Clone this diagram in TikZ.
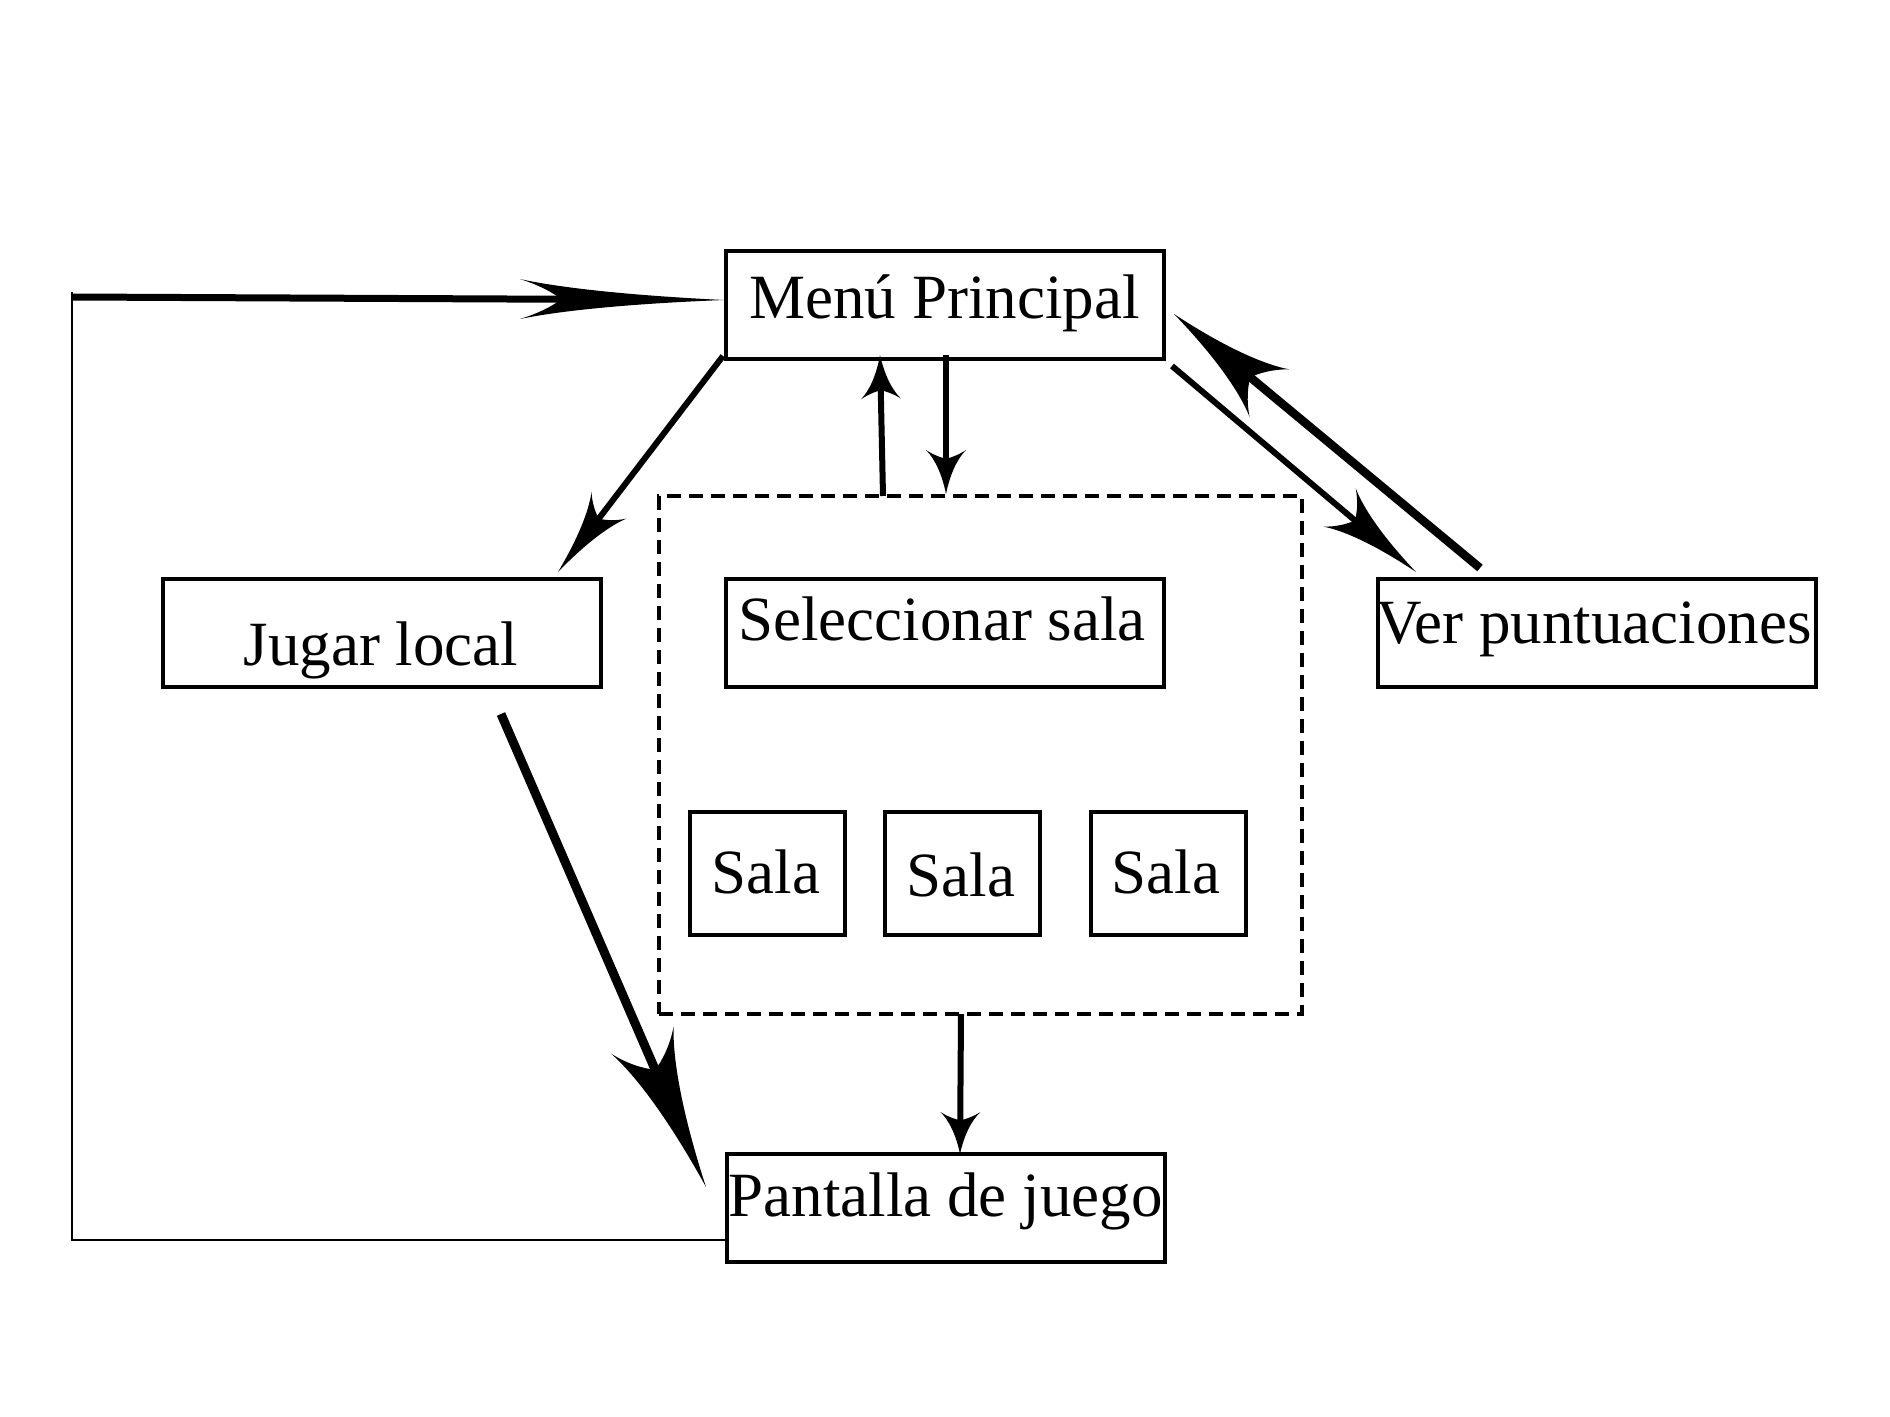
\documentclass[tikz,border=0pt]{standalone}
\usepackage{fontspec}
\setmainfont{Liberation Serif}
\usetikzlibrary{arrows.meta}
\pgfdeclarearrow{
  name = Barb,
  defaults = {length = 20pt, width = 20pt},
  parameters = {\the\pgfarrowlength,\the\pgfarrowwidth},
  setup code = {
    \pgfarrowssettipend{\pgfarrowlength}
    \pgfarrowssetbackend{0pt}
    \pgfarrowssetlineend{.3\pgfarrowlength}
    \pgfarrowshullpoint{\pgfarrowlength}{0pt}
    \pgfarrowsupperhullpoint{0pt}{.5\pgfarrowwidth}
    \pgfarrowssavethe\pgfarrowlength
    \pgfarrowssavethe\pgfarrowwidth
  },
  drawing code = {
    \pgfpathmoveto{\pgfqpoint{\pgfarrowlength}{0pt}}
    \pgfpathcurveto{\pgfqpoint{.55\pgfarrowlength}{.1\pgfarrowwidth}}{\pgfqpoint{.2\pgfarrowlength}{.28\pgfarrowwidth}}{\pgfqpoint{0pt}{.5\pgfarrowwidth}}
    \pgfpathcurveto{\pgfqpoint{.1\pgfarrowlength}{.34\pgfarrowwidth}}{\pgfqpoint{.17\pgfarrowlength}{.14\pgfarrowwidth}}{\pgfqpoint{.2\pgfarrowlength}{0pt}}
    \pgfpathcurveto{\pgfqpoint{.17\pgfarrowlength}{-.14\pgfarrowwidth}}{\pgfqpoint{.1\pgfarrowlength}{-.34\pgfarrowwidth}}{\pgfqpoint{0pt}{-.5\pgfarrowwidth}}
    \pgfpathcurveto{\pgfqpoint{.2\pgfarrowlength}{-.28\pgfarrowwidth}}{\pgfqpoint{.55\pgfarrowlength}{-.1\pgfarrowwidth}}{\pgfqpoint{\pgfarrowlength}{0pt}}
    \pgfpathclose
    \pgfusepathqfill
  }
}
\begin{document}
\begin{tikzpicture}[x=0.5pt,y=-0.5pt,
  box/.style={draw, line width=2pt, inner sep=0pt, minimum width=219pt, minimum height=54pt},
  salabox/.style={draw, line width=2pt, inner sep=0pt, minimum width=77.5pt, minimum height=61.5pt},
  grpbox/.style={draw, line width=2pt, dash pattern=on 7pt off 4pt, inner sep=0pt, minimum width=321.5pt, minimum height=259pt},
  txt/.style={anchor=base, inner sep=0pt, font=\fontsize{31.5pt}{36pt}\selectfont},
  conn/.style={line width=3pt},
  thinline/.style={line width=0.75pt}
]
\useasboundingbox (0,0) rectangle (1890,1417);

% boxes
\node[grpbox] (grp) at (980.5,755) {};
\node[box] (menu) at (945,305) {};
\node[box] (jugar) at (382,633) {};
\node[box] (selec) at (945,633) {};
\node[box] (ver) at (1597,633) {};
\node[box] (pant) at (946,1207.5) {};
\node[salabox] (sala1) at (767,873) {};
\node[salabox] (sala2) at (962,873) {};
\node[salabox] (sala3) at (1168.5,873) {};

% texts
\node[txt] (menut) at (944.5,319) {Menú Principal};
\node[txt] (jugart) at (381,665) {Jugar local};
\node[txt] (select) at (942,640) {Seleccionar sala};
\node[txt] (vert) at (1594,643) {Ver puntuaciones};
\node[txt] (sala1t) at (766,893) {Sala};
\node[txt] (sala2t) at (961,896) {Sala};
\node[txt] (sala3t) at (1166,893) {Sala};
\node[txt] (pantt) at (945.5,1216) {Pantalla de juego};

% connector end points
\coordinate (ltop) at (72,292);
\coordinate (lbot) at (72,1240);
\coordinate (pantin) at (727,1240);
\coordinate (a1s) at (72,297);
\coordinate (a1e) at (724,300);
\coordinate (a2s) at (723,356);
\coordinate (a2e) at (558,572);
\coordinate (a3s) at (883,496);
\coordinate (a3e) at (880,355);
\coordinate (a4s) at (946,355);
\coordinate (a4e) at (946,494);
\coordinate (a5s) at (1172,366);
\coordinate (a5e) at (1416,572);
\coordinate (a6s) at (1480,568);
\coordinate (a6e) at (1174,314);
\coordinate (a7s) at (501,714);
\coordinate (a7e) at (706,1187);
\coordinate (a8s) at (961,1014);
\coordinate (a8e) at (960,1154);

% connectors
\draw[thinline] (pantin) -- (lbot) -- (ltop);
\draw[line width=3.5pt, -{Barb[length=102pt,width=20pt]}] (a1s) -- (a1e);
\draw[conn, -{Barb[length=42pt,width=22pt]}] (a2s) -- (a2e);
\draw[conn, -{Barb[length=22pt,width=20pt]}] (a3s) -- (a3e);
\draw[conn, -{Barb[length=22pt,width=20pt]}] (a4s) -- (a4e);
\draw[conn, -{Barb[length=50pt,width=25pt]}] (a5s) -- (a5e);
\draw[line width=4.25pt, -{Barb[length=62pt,width=31pt]}] (a6s) -- (a6e);
\draw[line width=4.5pt, -{Barb[length=80pt,width=34pt]}] (a7s) -- (a7e);
\draw[conn, -{Barb[length=21pt,width=20pt]}] (a8s) -- (a8e);
\end{tikzpicture}
\end{document}
